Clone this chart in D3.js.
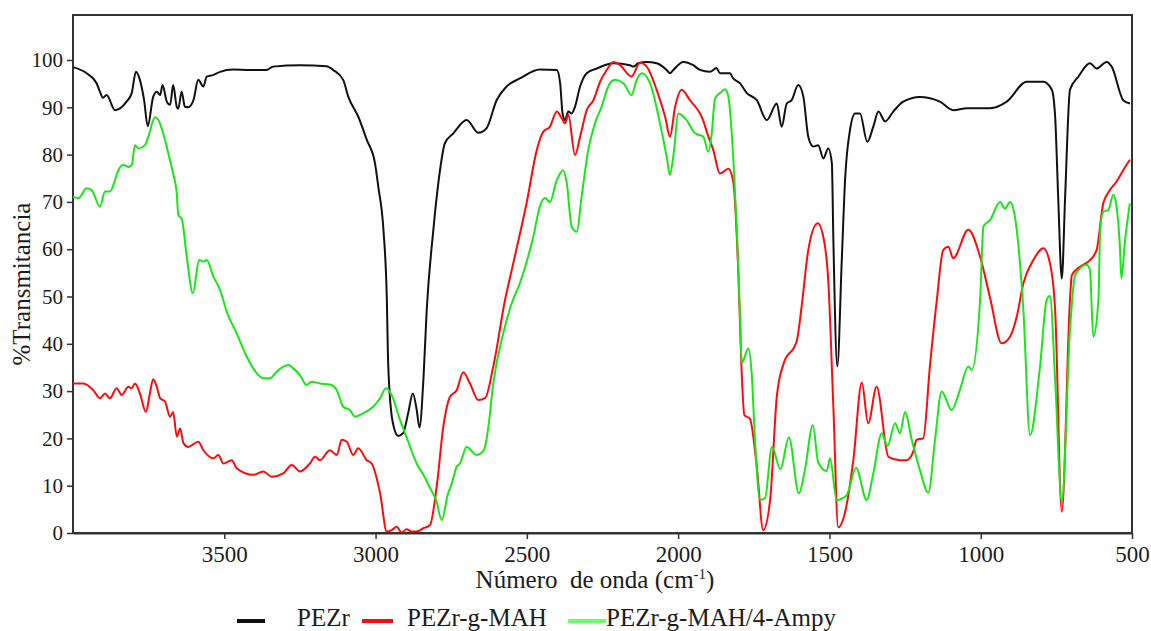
<!DOCTYPE html>
<html>
<head>
<meta charset="utf-8">
<script src="https://cdn.jsdelivr.net/npm/d3@7"></script>
<style>
	body { margin:0; background:#fff; }
	text { font-family:"Liberation Serif","Times New Roman",serif; fill:#1c1c1c; }
</style>
</head>
<body>
<div id="CHART"></div>
<script>
// wavenumber (cm-1) / %T
var aPEZr = [[4000,98.5],[3955,97.2],[3922,95.1],[3911,93.3],[3901,92.0],[3889,92.6],[3861,89.4],[3823,91.2],[3806,93.0],[3792,97.5],[3779,95.8],[3765,91.5],[3753,86.0],[3735,92.2],[3723,93.3],[3712,92.6],[3704,94.7],[3690,91.2],[3679,90.5],[3669,94.7],[3657,90.1],[3652,89.7],[3641,93.3],[3630,90.1],[3619,90.0],[3602,91.5],[3586,95.8],[3569,94.4],[3558,96.5],[3537,96.8],[3514,97.5],[3471,98.0],[3415,97.9],[3360,97.9],[3339,98.6],[3250,98.9],[3162,98.7],[3140,97.9],[3107,95.8],[3090,92.2],[3057,88.0],[3029,83.1],[3002,78.2],[2991,73.2],[2974,64.1],[2963,50.0],[2958,35.2],[2943,23.3],[2925,20.5],[2909,21.1],[2892,25.4],[2877,29.5],[2864,26.0],[2855,22.3],[2842,32.3],[2831,47.1],[2809,64.1],[2787,76.7],[2771,82.4],[2743,84.5],[2699,87.3],[2660,84.6],[2633,85.6],[2600,91.5],[2567,94.4],[2523,96.1],[2457,98.0],[2401,97.9],[2390,95.1],[2382,88.7],[2374,87.3],[2363,89.1],[2352,88.7],[2341,90.1],[2324,94.4],[2302,97.2],[2269,98.2],[2214,99.3],[2159,98.9],[2148,98.6],[2132,99.3],[2104,99.6],[2071,99.3],[2038,97.9],[2027,97.2],[2016,97.9],[1983,99.6],[1950,98.9],[1928,97.9],[1895,97.5],[1873,98.3],[1862,97.2],[1829,97.2],[1818,96.1],[1796,95.1],[1773,93.0],[1740,91.5],[1707,87.3],[1674,90.8],[1658,85.9],[1641,90.8],[1625,91.5],[1603,94.7],[1586,92.2],[1570,83.8],[1553,81.7],[1537,82.0],[1520,79.2],[1504,81.3],[1492,78.2],[1487,62.0],[1474,35.2],[1459,58.0],[1448,75.0],[1432,85.2],[1415,88.7],[1399,88.7],[1375,82.7],[1355,85.9],[1338,89.1],[1316,87.0],[1289,89.1],[1256,91.2],[1201,92.2],[1135,91.2],[1091,89.4],[1046,89.8],[969,89.8],[914,91.2],[848,95.4],[793,95.4],[765,93.7],[754,88.0],[744,71.1],[732,53.8],[721,71.1],[705,93.7],[677,96.5],[639,99.3],[617,98.2],[584,99.6],[567,98.6],[529,91.5],[507,90.8]];

var aMAH = [[4000,31.6],[3966,31.6],[3933,30.2],[3911,28.5],[3894,29.5],[3878,28.5],[3856,30.6],[3839,29.2],[3817,30.9],[3806,30.6],[3795,31.6],[3779,29.5],[3759,25.6],[3746,29.5],[3735,32.5],[3723,30.9],[3712,28.5],[3696,27.8],[3679,24.6],[3669,25.6],[3657,20.4],[3646,22.1],[3635,19.0],[3619,18.2],[3586,19.3],[3569,17.5],[3536,15.8],[3520,16.5],[3503,14.7],[3475,15.4],[3459,13.7],[3404,12.3],[3371,13.0],[3343,11.9],[3305,12.6],[3277,14.4],[3250,13.0],[3217,14.7],[3200,16.1],[3184,15.4],[3151,17.5],[3128,16.5],[3112,19.7],[3095,19.3],[3074,16.5],[3057,17.9],[3029,15.4],[3013,14.7],[2985,8.4],[2963,0.3],[2947,0.6],[2930,1.3],[2914,0.1],[2897,0.8],[2881,0.3],[2864,0.3],[2842,1.0],[2820,1.7],[2798,9.8],[2776,22.5],[2754,28.8],[2732,30.2],[2710,34.0],[2688,31.6],[2660,28.1],[2638,28.5],[2611,35.2],[2572,49.3],[2545,57.0],[2501,69.7],[2467,81.0],[2446,84.8],[2424,85.9],[2401,89.1],[2385,87.7],[2374,86.6],[2363,88.4],[2341,79.9],[2324,83.8],[2302,89.4],[2280,91.5],[2258,95.4],[2236,97.9],[2214,99.6],[2192,98.9],[2154,96.5],[2126,99.4],[2104,98.6],[2071,93.7],[2043,88.0],[2027,83.8],[2010,90.1],[1988,93.7],[1961,91.5],[1939,89.8],[1922,88.0],[1900,83.8],[1884,81.0],[1862,76.0],[1834,77.0],[1818,74.3],[1801,54.9],[1790,33.8],[1781,24.9],[1763,24.2],[1740,14.0],[1719,0.6],[1696,7.0],[1674,28.8],[1652,35.7],[1608,40.6],[1592,47.8],[1570,59.8],[1539,65.5],[1518,61.9],[1504,53.5],[1487,26.7],[1471,1.2],[1449,4.2],[1421,15.4],[1393,31.8],[1372,23.2],[1344,30.9],[1305,16.1],[1267,15.4],[1245,15.4],[1223,17.2],[1212,19.7],[1190,20.0],[1168,35.2],[1145,49.3],[1124,59.8],[1107,60.5],[1091,58.1],[1041,64.1],[1002,58.4],[969,49.7],[931,40.1],[903,41.5],[881,45.7],[859,52.8],[826,57.7],[793,60.2],[771,57.0],[754,47.1],[732,4.5],[705,49.3],[699,54.5],[672,56.3],[639,57.7],[617,59.8],[595,69.7],[573,72.5],[551,74.3],[529,76.7],[507,78.9]];

var aAmpy = [[4000,71.1],[3982,70.8],[3955,72.9],[3938,72.5],[3911,69.0],[3894,72.2],[3878,72.2],[3861,74.6],[3850,76.7],[3834,77.8],[3817,77.4],[3806,77.8],[3795,82.0],[3784,81.3],[3762,82.0],[3751,83.8],[3729,87.9],[3718,87.3],[3702,84.5],[3685,80.3],[3669,76.0],[3657,71.8],[3652,67.2],[3641,66.5],[3624,58.4],[3604,50.7],[3583,57.7],[3569,57.4],[3558,57.7],[3536,54.2],[3514,51.4],[3492,46.8],[3459,42.2],[3426,37.3],[3393,33.8],[3371,32.7],[3349,32.7],[3327,34.1],[3288,35.5],[3272,34.8],[3250,33.4],[3228,31.3],[3211,32.0],[3184,31.6],[3151,31.4],[3128,30.2],[3107,26.7],[3085,26.0],[3068,24.6],[3041,25.3],[3008,26.7],[2985,28.5],[2966,30.6],[2947,29.2],[2919,23.9],[2892,19.3],[2864,14.7],[2842,12.3],[2820,9.5],[2800,7.0],[2781,2.7],[2762,8.0],[2748,10.5],[2732,14.0],[2721,14.7],[2699,18.2],[2666,16.5],[2642,17.5],[2627,22.5],[2611,31.6],[2578,42.2],[2552,48.2],[2523,52.8],[2479,62.6],[2457,69.0],[2440,70.8],[2424,70.0],[2401,74.6],[2380,76.7],[2368,73.9],[2352,64.8],[2335,63.7],[2319,71.1],[2297,81.0],[2275,86.6],[2253,90.1],[2231,94.4],[2209,95.8],[2181,95.1],[2154,92.6],[2137,95.8],[2120,97.2],[2093,95.1],[2060,86.6],[2038,79.6],[2027,75.7],[2016,79.6],[1999,88.7],[1972,87.3],[1944,84.5],[1917,83.8],[1900,80.6],[1889,84.5],[1878,91.9],[1862,93.0],[1845,93.8],[1834,92.2],[1818,79.6],[1806,64.1],[1796,47.1],[1790,35.9],[1768,39.0],[1757,33.8],[1746,19.7],[1729,7.0],[1713,7.3],[1690,18.2],[1662,13.5],[1634,20.2],[1601,8.4],[1581,13.3],[1555,22.8],[1537,14.9],[1509,13.1],[1498,15.8],[1476,7.0],[1443,8.0],[1412,13.8],[1377,7.0],[1355,12.6],[1327,21.1],[1308,18.4],[1283,23.2],[1267,21.1],[1250,25.6],[1228,19.7],[1201,13.3],[1173,8.5],[1151,19.7],[1129,29.9],[1096,26.0],[1069,30.2],[1041,35.2],[1030,34.5],[1002,49.3],[991,64.8],[969,66.2],[936,70.0],[920,68.6],[903,70.0],[887,66.9],[859,47.1],[837,20.7],[804,35.2],[782,49.3],[771,50.1],[754,32.3],[732,6.6],[705,42.9],[688,54.5],[650,56.7],[639,55.6],[628,41.5],[611,49.3],[605,64.1],[595,67.9],[578,68.3],[562,71.5],[551,69.0],[540,60.5],[535,53.8],[523,61.9],[507,69.7]];

var aSeriesNames = ["PEZr", "PEZr-g-MAH", "PEZr-g-MAH/4-Ampy"];
var aXTicks = [3500, 3000, 2500, 2000, 1500, 1000, 500];
var aYTicks = [0, 10, 20, 30, 40, 50, 60, 70, 80, 90, 100];

function DrawSpectrum()
{
	var iWidth=1151;
	var iHeight=631;
	var iLeft=73, iRight=1132, iTop=15, iBottom=533;

	var svg = d3.select("#CHART").append("svg")
		.attr("width", iWidth)
		.attr("height", iHeight);

	var xAxes = d3.scaleLinear().domain([4000, 500]).range([iLeft, iRight]);
	var yAxes = d3.scaleLinear().domain([0, 100]).range([iBottom, 60]);

	var aColors = ["#111111", "#ff0a0a", "#19e619"];
	var aData = [aPEZr, aMAH, aAmpy];

	var line = d3.line()
		.x(function(d) { return xAxes(d[0]); })
		.y(function(d) { return yAxes(d[1]); })
		.curve(d3.curveMonotoneX);

	// frame
	svg.append("rect")
		.attr("x", iLeft).attr("y", iTop)
		.attr("width", iRight-iLeft).attr("height", iBottom-iTop)
		.attr("fill", "none").attr("stroke", "#333").attr("stroke-width", 2);

	var plot = svg.append("g");
	aData.forEach(function(series, i) {
		plot.append("path")
			.datum(series)
			.attr("d", line)
			.attr("fill", "none")
			.attr("stroke", aColors[i])
			.attr("stroke-width", 2)
			.attr("stroke-linejoin", "round");
	});

	var gx = svg.append("g")
		.attr("transform", "translate(0," + iBottom + ")")
		.call(d3.axisBottom(xAxes).tickValues(aXTicks).tickFormat(d3.format("d")).tickSize(6).tickPadding(7).tickSizeOuter(0));
	gx.select(".domain").attr("stroke", "#333").attr("stroke-width", 2);
	gx.selectAll(".tick line").attr("stroke", "#333").attr("stroke-width", 1.5);
	gx.selectAll("text").style("font-size", "23px").attr("fill", "#1c1c2c");

	var gy = svg.append("g")
		.attr("transform", "translate(" + iLeft + ",0)")
		.call(d3.axisLeft(yAxes).tickValues(aYTicks).tickFormat(d3.format("d")).tickSize(6).tickPadding(4).tickSizeOuter(0));
	gy.select(".domain").remove();
	gy.selectAll(".tick line").attr("stroke", "#333").attr("stroke-width", 1.5);
	gy.selectAll("text").style("font-size", "21px").attr("fill", "#1c1c2c");

	// axis titles
	var xt = svg.append("text")
		.attr("x", 595).attr("y", 588)
		.attr("text-anchor", "middle")
		.style("font-size", "25px")
		.style("white-space", "pre");
	xt.append("tspan").text("Número  de onda (cm");
	xt.append("tspan").text("-1").attr("dy", -9).style("font-size", "15px");
	xt.append("tspan").text(")").attr("dy", 9);

	svg.append("text")
		.attr("transform", "translate(30,284) rotate(-90)")
		.attr("text-anchor", "middle")
		.style("font-size", "25px")
		.text("%Transmitancia");

	// legend
	var aLegend = [
		{x1:237, x2:265, tx:297},
		{x1:362, x2:393, tx:407},
		{x1:568, x2:606, tx:606}
	];
	var aLegendColors = ["#111111", "#ff0a0a", "#66ff66"];
	aLegend.forEach(function(L, i) {
		svg.append("line")
			.attr("x1", L.x1).attr("x2", L.x2)
			.attr("y1", 621).attr("y2", 621)
			.attr("stroke", aLegendColors[i]).attr("stroke-width", 4);
		svg.append("text")
			.attr("x", L.tx).attr("y", 626)
			.style("font-size", "25px")
			.attr("fill", "#111")
			.text(aSeriesNames[i]);
	});
}

DrawSpectrum();
</script>
</body>
</html>
